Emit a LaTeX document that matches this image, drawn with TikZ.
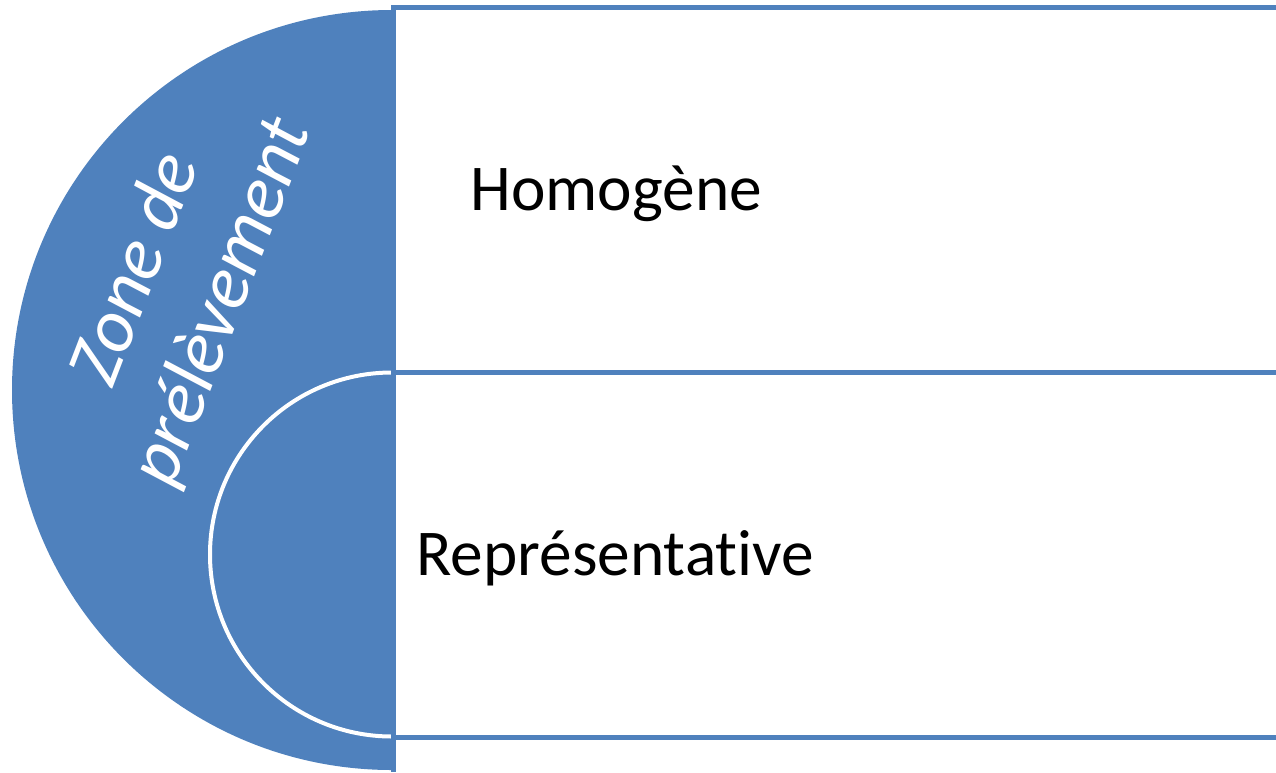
\documentclass[tikz,border=0pt]{standalone}
\usepackage{fontspec}
\setmainfont{Carlito}[Ligatures=NoCommon]
\definecolor{zoneblue}{RGB}{79,129,189}
\tikzset{every picture/.style={line width=0.75pt}}
\tikzset{
  band/.style={draw=zoneblue, line width=3.75pt},
  label/.style={font=\fontsize{49}{59}\selectfont, inner sep=0pt},
}

\begin{document}
\begin{tikzpicture}[x=0.75pt,y=0.75pt,yscale=-1,xscale=1]
\useasboundingbox (0,0) rectangle (1276,772);

%Shape: Half Circle [id:zone]
\fill [zoneblue] (392,10) arc (270:90:380) -- cycle ;
%Shape: Half Circle [id:inner]
\draw [white, line width=3pt] (392,372.5) arc (270:90:182) ;
%Shape: Rectangle [id:top]
\draw [band] (393,7.5) rectangle (1300,372.5) ;
%Shape: Rectangle [id:bottom]
\draw [band] (393,372.5) rectangle (1300,737.5) ;
%Straight Lines [id:edge]
\draw [band] (393,5) -- (393,772) ;

% Text Node
\node [label, anchor=base west] (homog) at (470,210) {Homogène};
% Text Node
\node [label, anchor=base west] (repr) at (416,575) {Représentat\kern0pt ive};
% Text Node
\node [text=white, rotate=69, align=center, inner sep=0pt,
  font=\fontsize{57}{69}\selectfont\itshape] (zone) at (180,286) {Zone de\\prélèvement};

\end{tikzpicture}
\end{document}
